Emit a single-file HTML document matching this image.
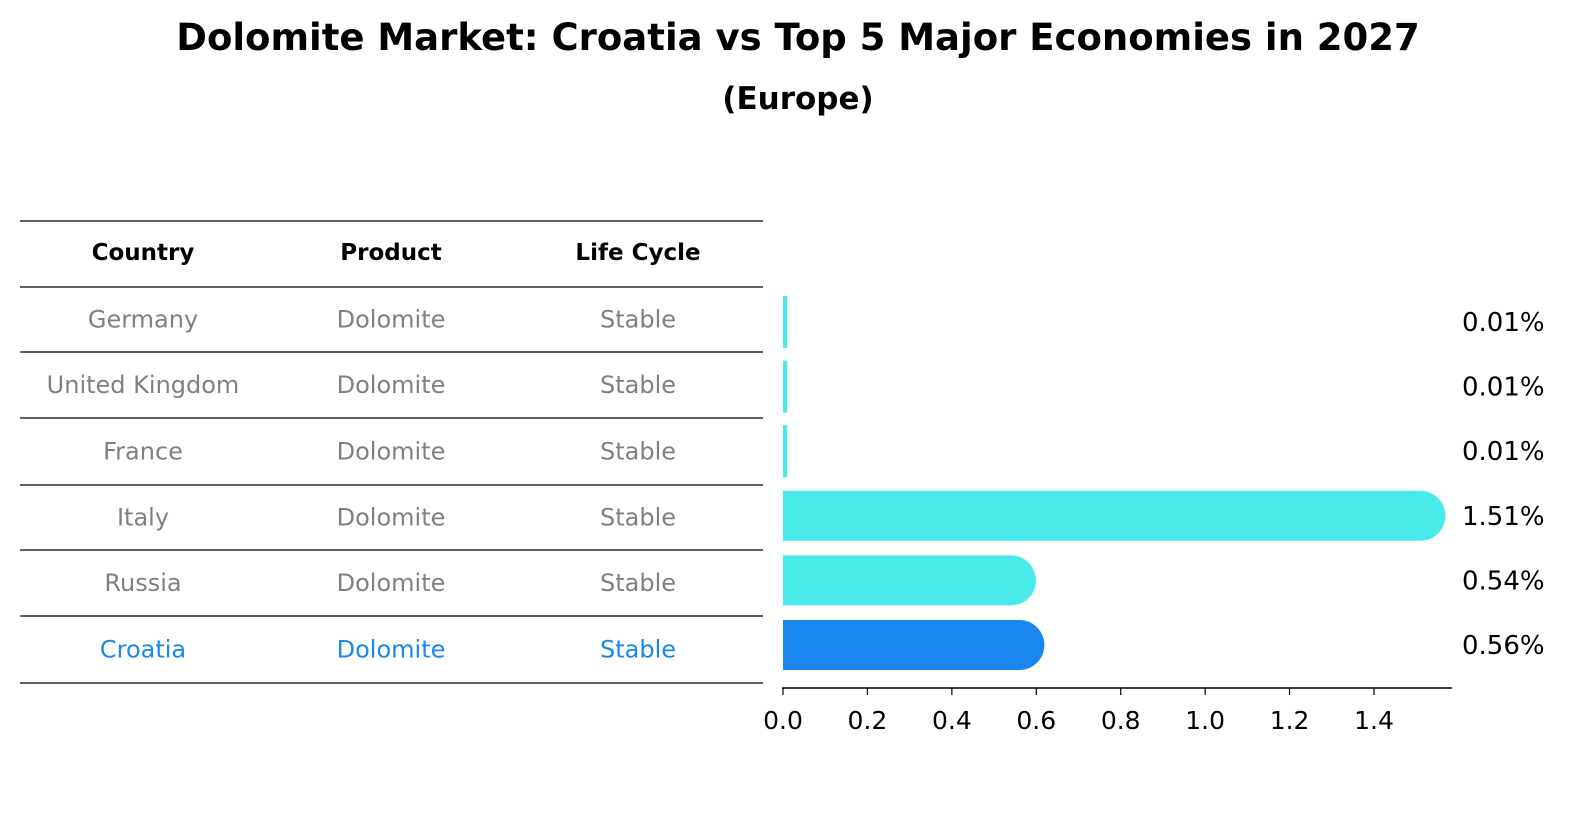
<!DOCTYPE html>
<html><head><meta charset="utf-8"><style>
body{margin:0;background:#fff;font-family:"Liberation Sans","DejaVu Sans",sans-serif}
</style></head><body>
<svg width="1586" height="823" xmlns="http://www.w3.org/2000/svg" style="font-family:'DejaVu Sans','Liberation Sans',sans-serif">
<text x="798" y="50" text-anchor="middle" font-size="37" font-weight="bold">Dolomite Market: Croatia vs Top 5 Major Economies in 2027</text>
<text x="798" y="109" text-anchor="middle" font-size="31" font-weight="bold">(Europe)</text>
<g id="table"></g>
<g id="bars"></g>
</svg>
<script>
const countries=["Germany","United Kingdom","France","Italy","Russia","Croatia"];
const products=["Dolomite","Dolomite","Dolomite","Dolomite","Dolomite","Dolomite"];
const lifecycle=["Stable","Stable","Stable","Stable","Stable","Stable"];
const values=[0.01,0.01,0.01,1.51,0.54,0.56];
const valueLabels=["0.01%","0.01%","0.01%","1.51%","0.54%","0.56%"];
const ticks=[0,0.2,0.4,0.6,0.8,1.0,1.2,1.4];
const NS="http://www.w3.org/2000/svg";
function mk(tag,attrs,parent,text){const e=document.createElementNS(NS,tag);for(const k in attrs)e.setAttribute(k,attrs[k]);if(text!==undefined)e.textContent=text;parent.appendChild(e);return e;}
const x=v=>783+v*(591/1.4);
const rowY=i=>322+i*64.6;
const tbl=document.getElementById('table');
const lines=[221,287,352,418,485,550,616,683];
lines.forEach((ly)=>{const l=mk('line',{x1:20,x2:763,y1:ly,y2:ly,stroke:'#000','stroke-width':1.2},tbl);

});
const cols=[143,391,638];
["Country","Product","Life Cycle"].forEach((h,j)=>{const t=mk('text',{x:cols[j],y:260,'text-anchor':'middle','font-size':23,'font-weight':'bold'},tbl,h);

});
countries.forEach((c,i)=>{const cy=(lines[i+1]+lines[i+2])/2+8;const col=c==="Croatia"?'#1a87f0':'#808080';
[c,products[i],lifecycle[i]].forEach((v,j)=>{const t=mk('text',{x:cols[j],y:cy,'text-anchor':'middle','font-size':24,fill:col},tbl,v);

});});
const g=document.getElementById('bars');
values.forEach((v,i)=>{const cy=rowY(i),h=50,x0=x(0),x1=x(v);const w=x1-x0;const r=w<10?0:25;const col=countries[i]==="Croatia"?'#1a87f0':'#4aeaea';
let p;
if(r===0){p=mk('rect',{x:x0,y:cy-26,width:Math.max(w,3),height:52,fill:col},g);}
else{p=mk('path',{d:`M${x0},${cy-h/2} L${x1},${cy-h/2} A${r},${h/2} 0 0 1 ${x1},${cy+h/2} L${x0},${cy+h/2} Z`,fill:col},g);}


const t=mk('text',{x:1462,y:cy+9,'font-size':26},g,valueLabels[i]);

});
const ax=mk('line',{x1:782,x2:1452,y1:688,y2:688,stroke:'#000','stroke-width':1.5},g);


ticks.forEach(tk=>{const tl=mk('line',{x1:x(tk),x2:x(tk),y1:688,y2:695,stroke:'#000','stroke-width':1.2},g);


const t=mk('text',{x:x(tk),y:729,'text-anchor':'middle','font-size':25},g,tk.toFixed(1));

});
</script>
</body></html>
